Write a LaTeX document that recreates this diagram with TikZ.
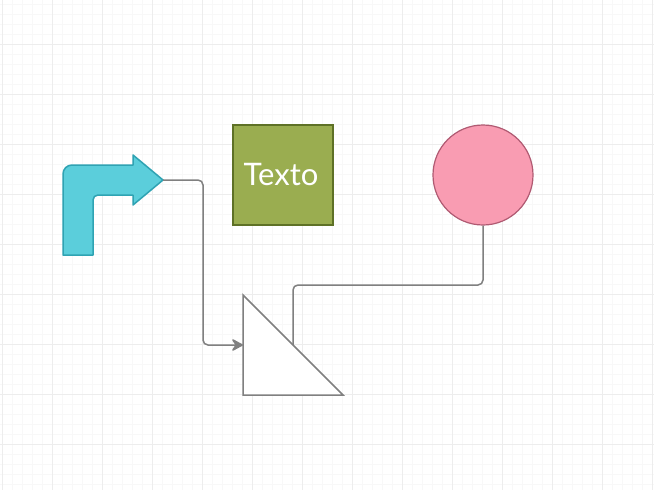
\documentclass[tikz,border=0pt]{standalone}
\usepackage{fontspec}
\setmainfont{Lato}
\usetikzlibrary{arrows.meta}
\definecolor{gridminor}{HTML}{F8F8F8}
\definecolor{gridmajor}{HTML}{EDEDED}
\definecolor{arrowfill}{HTML}{5BCEDB}
\definecolor{arrowline}{HTML}{2FA3B3}
\definecolor{boxfill}{HTML}{9AAD50}
\definecolor{boxline}{HTML}{5E7126}
\definecolor{circfill}{HTML}{F99CB2}
\definecolor{circline}{HTML}{B05A72}
\definecolor{connline}{HTML}{808080}
\tikzset{
  minorgrid/.style={draw=gridminor, line width=1pt},
  majorgrid/.style={draw=gridmajor, line width=1.6pt},
  conn/.style={draw=connline, line width=1.5pt, rounded corners=5pt},
  textbox/.style={rectangle, draw=boxline, fill=boxfill, line width=1.2pt, minimum width=100pt, minimum height=100pt, inner sep=0pt, text=white, font=\fontsize{31}{36}\selectfont},
  circ/.style={circle, draw=circline, fill=circfill, line width=1.2pt, minimum size=100pt, inner sep=0pt},
}
\begin{document}
\begin{tikzpicture}[x=1pt,y=-1pt]
\useasboundingbox[fill=white] (0,0) rectangle (654,490);
% grid
\foreach \x in {2.5,12.5,...,652.5} \draw[minorgrid] (\x,0) -- (\x,490);
\foreach \y in {4.5,14.5,...,484.5} \draw[minorgrid] (0,\y) -- (654,\y);
\foreach \x in {2.5,52.5,...,652.5} \draw[majorgrid] (\x,0) -- (\x,490);
\foreach \y in {44.5,94.5,...,444.5} \draw[majorgrid] (0,\y) -- (654,\y);
% bent arrow
\draw[draw=arrowline, fill=arrowfill, line width=1.5pt, line join=round]
  (63,255) -- (63,174) .. controls (63,169) and (67,165) .. (72,165)
  -- (133,165) -- (133,155) -- (163,180) -- (133,205) -- (133,195)
  -- (98,195) .. controls (95.2,195) and (93,197.2) .. (93,200) -- (93,255) -- cycle;
\coordinate (arrowtip) at (163,180);
% text box
\node[textbox] (box) at (283,175) {\hspace*{-4pt}Texto};
% circle
\node[circ] (circ) at (483,175) {};
% triangle coordinates
\coordinate (triW) at (243,345);
\coordinate (triC) at (293,345);
% connectors
\draw[conn] (circ.south) -- (483,285) -- (293,285) -- (triC);
\draw[conn, -{Stealth[length=13pt,width=14pt,inset=4.5pt,round]}] (arrowtip) -- (203,180) -- (203,345) -- (triW);
% triangle
\draw[draw=connline, fill=white, line width=1.5pt] (243,295) -- (243,395) -- (343,395) -- cycle;
\end{tikzpicture}
\end{document}
